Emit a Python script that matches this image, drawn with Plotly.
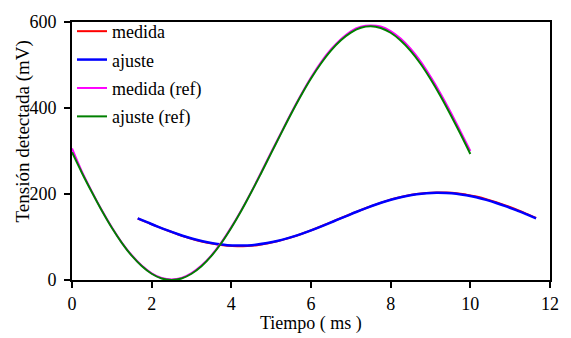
import plotly.graph_objects as go

# Time axis (ms) for the reference signal and its fitted curve
t_ref = [0.00, 0.25, 0.50, 0.75, 1.00, 1.25, 1.50, 1.75, 2.00, 2.25, 2.50,
         2.75, 3.00, 3.25, 3.50, 3.75, 4.00, 4.25, 4.50, 4.75, 5.00,
         5.25, 5.50, 5.75, 6.00, 6.25, 6.50, 6.75, 7.00, 7.25, 7.50,
         7.75, 8.00, 8.25, 8.50, 8.75, 9.00, 9.25, 9.50, 9.75, 10.00]

# Reference channel: measured and fitted voltage (mV)
medida_ref = [306.0, 252.0, 205.5, 162.0, 122.5, 87.0, 57.5, 33.5, 15.5, 4.5, 1.0,
              4.5, 16.0, 33.5, 57.5, 87.5, 123.0, 162.5, 205.0, 250.5, 297.0,
              342.5, 388.0, 431.0, 471.0, 506.5, 536.0, 560.0, 578.5, 589.0, 592.0,
              589.5, 579.0, 561.5, 538.0, 508.5, 473.0, 434.0, 391.5, 346.0, 300.0]
ajuste_ref = [297.0, 249.0, 204.0, 161.0, 121.5, 86.5, 56.5, 32.5, 14.5, 3.5, 0.0,
              3.5, 14.5, 32.0, 56.0, 86.0, 121.5, 161.0, 204.0, 249.0, 295.0,
              341.0, 386.0, 429.0, 468.5, 503.5, 533.5, 557.5, 575.5, 586.5, 590.0,
              586.0, 575.0, 557.0, 533.0, 503.0, 467.5, 428.0, 385.0, 340.0, 293.0]

# Time axis (ms) for the detected signal and its fitted curve
t_det = [1.65, 1.90, 2.15, 2.40, 2.65, 2.90, 3.15, 3.40, 3.65, 3.90, 4.15,
         4.40, 4.65, 4.90, 5.15, 5.40, 5.65, 5.90, 6.15, 6.40, 6.65,
         6.90, 7.15, 7.40, 7.65, 7.90, 8.15, 8.40, 8.65, 8.90, 9.15,
         9.40, 9.65, 9.90, 10.15, 10.40, 10.65, 10.90, 11.15, 11.40, 11.65]

# Detected channel: measured and fitted voltage (mV)
medida = [143.0, 133.5, 124.0, 115.0, 106.5, 99.0, 92.0, 86.5, 82.5, 79.5, 78.5,
          79.0, 81.0, 85.0, 90.0, 96.5, 103.5, 112.0, 121.0, 130.5, 140.0,
          149.5, 159.0, 168.0, 176.5, 184.0, 190.5, 196.0, 200.0, 202.5, 203.5,
          203.5, 202.0, 198.5, 194.0, 188.0, 181.0, 173.0, 164.0, 154.5, 144.5]
ajuste = [143.4, 133.8, 124.3, 115.3, 106.9, 99.4, 92.9, 87.6, 83.6, 81.1, 80.0,
          80.5, 82.4, 85.9, 90.6, 96.7, 103.8, 111.9, 120.7, 130.0, 139.6,
          149.2, 158.7, 167.7, 176.1, 183.6, 190.1, 195.4, 199.4, 201.9, 203.0,
          202.5, 200.6, 197.1, 192.4, 186.3, 179.2, 171.1, 162.3, 153.0, 143.4]

x_ticks = [0, 2, 4, 6, 8, 10, 12]
y_ticks = [0, 200, 400, 600]

serif = "'Times New Roman', 'Liberation Serif', 'DejaVu Serif', serif"

fig = go.Figure()
series = [
    ("medida", t_det, medida, "#ff0000", 2),
    ("ajuste", t_det, ajuste, "#0000ff", 2.5),
    ("medida (ref)", t_ref, medida_ref, "#ff00ff", 2),
    ("ajuste (ref)", t_ref, ajuste_ref, "#008000", 2),
]
for name, xs, ys, color, width in series:
    fig.add_trace(go.Scatter(
        x=xs, y=ys, name=name, mode="lines", legendgroup=name,
        line=dict(color=color, width=width, shape="spline"),
    ))

axis_common = dict(
    showgrid=False, zeroline=False,
    showline=True, linecolor="black", linewidth=2, mirror=True,
    ticks="outside", ticklen=6, tickwidth=2, tickcolor="black",
    tickfont=dict(family=serif, size=18, color="black"),
)

fig.update_layout(
    width=571, height=338,
    margin=dict(l=72, r=14, t=14, b=58),
    paper_bgcolor="white", plot_bgcolor="white",
    font=dict(family=serif, size=18, color="black"),
    showlegend=True,
    legend=dict(
        x=0.0, y=1.035, xanchor="left", yanchor="top",
        bgcolor="rgba(0,0,0,0)", borderwidth=0,
        font=dict(family=serif, size=18, color="black"),
        tracegroupgap=2,
    ),
    xaxis=dict(range=[0, 12], tickvals=x_ticks, ticklabelstandoff=0, **axis_common),
    yaxis=dict(range=[0, 600], tickvals=y_ticks, ticklabelstandoff=4, **axis_common),
    annotations=[
        dict(text="Tiempo ( ms )", xref="paper", yref="paper",
             x=0.5, y=-0.17, xanchor="center", yanchor="middle", showarrow=False,
             font=dict(family=serif, size=18, color="black")),
        dict(text="Tensión detectada (mV)", xref="paper", yref="paper",
             x=-0.103, y=0.575, xanchor="center", yanchor="middle", showarrow=False,
             textangle=-90, font=dict(family=serif, size=19, color="black")),
    ],
)

fig.write_html("out.html")
